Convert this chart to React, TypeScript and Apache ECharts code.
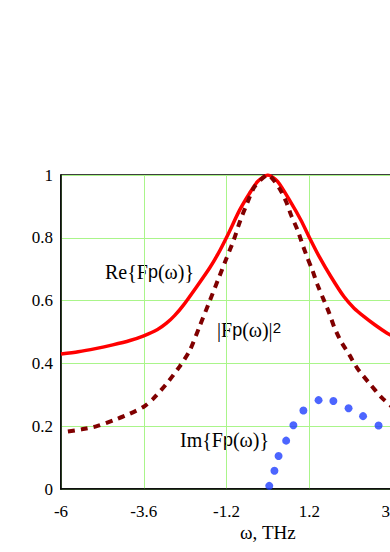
import React, { useEffect, useRef } from "react";
import * as echarts from "echarts";

const reData: [number, number][] = [
  [-6, 0.43], [-5.5, 0.437], [-5, 0.447], [-4.5, 0.459], [-4, 0.473], [-3.6, 0.488],
  [-3.2, 0.508], [-2.94, 0.528], [-2.7, 0.553], [-2.46, 0.584], [-2.08, 0.642], [-1.69, 0.704],
  [-1.45, 0.748], [-1.16, 0.81], [-0.82, 0.888], [-0.53, 0.942], [-0.29, 0.98], [0, 1.0],
  [0.28, 0.98], [0.67, 0.912], [0.96, 0.856], [1.2, 0.802], [1.49, 0.74], [1.83, 0.676],
  [2.21, 0.612], [2.5, 0.576], [2.79, 0.549], [3.1, 0.523], [3.46, 0.496], [3.6, 0.488],
];
const absSqData: [number, number][] = [
  [-5.8, 0.183], [-5.4, 0.19], [-4.96, 0.2], [-4.4, 0.222], [-4.0, 0.24], [-3.6, 0.262],
  [-3.33, 0.287], [-2.94, 0.335], [-2.56, 0.39], [-2.27, 0.44], [-1.98, 0.518], [-1.69, 0.598],
  [-1.45, 0.665], [-1.2, 0.735], [-1.0, 0.79], [-0.8, 0.855], [-0.6, 0.91], [-0.39, 0.962],
  [0, 1.0], [0.33, 0.958], [0.53, 0.915], [0.67, 0.873], [0.86, 0.825], [1.0, 0.78],
  [1.15, 0.735], [1.29, 0.697], [1.44, 0.65], [1.63, 0.6], [1.78, 0.56], [1.92, 0.517],
  [2.12, 0.47], [2.36, 0.428], [2.59, 0.385], [2.94, 0.337], [3.31, 0.29], [3.6, 0.262],
];
const imData: [number, number][] = [
  [0.04, 0.01], [0.19, 0.058], [0.31, 0.105], [0.53, 0.154], [0.74, 0.203], [1.03, 0.25],
  [1.47, 0.283], [1.9, 0.28], [2.34, 0.257], [2.76, 0.232], [3.21, 0.202],
];
const xTicks = [-6, -3.6, -1.2, 1.2, 3.6];
const yTicks = [0, 0.2, 0.4, 0.6, 0.8, 1];

const serif = "'Liberation Serif', 'Times New Roman', serif";
const sans = "'Liberation Sans', Arial, sans-serif";

export default function App() {
  const ref = useRef<HTMLDivElement>(null);
  useEffect(() => {
    if (!ref.current) return;
    const chart = echarts.init(ref.current, undefined, { renderer: "svg" });
    const richBase = {
      p: { fontFamily: sans, fontSize: 18, fill: "#000" },
      s: { fontFamily: sans, fontSize: 15, verticalAlign: "top", lineHeight: 12 },
    };
    const labelStyle = (text: string) => ({
      text,
      font: `20px ${serif}`,
      fill: "#000",
      rich: richBase,
    });
    chart.setOption({
      animation: false,
      grid: {
        left: 61,
        right: 48,
        top: 175,
        bottom: 63,
        show: true,
        borderColor: "#000",
        borderWidth: 1.5,
        backgroundColor: "transparent",
      },
      xAxis: {
        type: "value",
        min: -6,
        max: 3.6,
        interval: 2.4,
        axisLine: { show: true, onZero: false, lineStyle: { color: "#000", width: 1.5 } },
        axisTick: { show: false },
        splitLine: { show: true, lineStyle: { color: "#aaf58a", width: 1 } },
        axisLabel: {
          margin: 14,
          fontFamily: serif,
          fontSize: 17,
          color: "#000",
          customValues: xTicks,
          formatter: (v: number) => String(Math.round(v * 10) / 10),
        },
      },
      yAxis: {
        type: "value",
        min: 0,
        max: 1,
        interval: 0.2,
        axisLine: { show: true, onZero: false, lineStyle: { color: "#000", width: 1.5 } },
        axisTick: { show: false },
        splitLine: { show: true, lineStyle: { color: "#aaf58a", width: 1 } },
        axisLabel: {
          margin: 8,
          fontFamily: serif,
          fontSize: 17,
          color: "#000",
          customValues: yTicks,
          formatter: (v: number) => String(Math.round(v * 10) / 10),
        },
      },
      series: [
        {
          type: "line",
          data: reData,
          smooth: 0.25,
          showSymbol: false,
          lineStyle: { color: "#ff0000", width: 3.5 },
          z: 3,
        },
        {
          type: "line",
          data: absSqData,
          smooth: 0.25,
          showSymbol: false,
          lineStyle: { color: "#800000", width: 4, type: [7, 6] },
          z: 4,
        },
        {
          type: "scatter",
          data: imData,
          symbolSize: 8,
          itemStyle: { color: "#1f3fff" },
          z: 5,
        },
      ],
      graphic: [
        { type: "text", left: 105, top: 262, style: labelStyle("Re{F{p|p}(ω)}") },
        { type: "text", left: 217, top: 320, style: labelStyle("|F{p|p}(ω)|{s|2}") },
        { type: "text", left: 180, top: 430, style: labelStyle("Im{F{p|p}(ω)}") },
        {
          type: "text",
          left: 240,
          top: 523,
          style: { text: "ω, THz", font: `19px ${serif}`, fill: "#000" },
        },
      ],
    });
    return () => chart.dispose();
  }, []);
  return (
    <div style={{ position: "fixed", left: 0, top: 0, width: 390, height: 552, overflow: "hidden", background: "#fff" }}>
      <div ref={ref} style={{ width: 440, height: 552 }} />
    </div>
  );
}
